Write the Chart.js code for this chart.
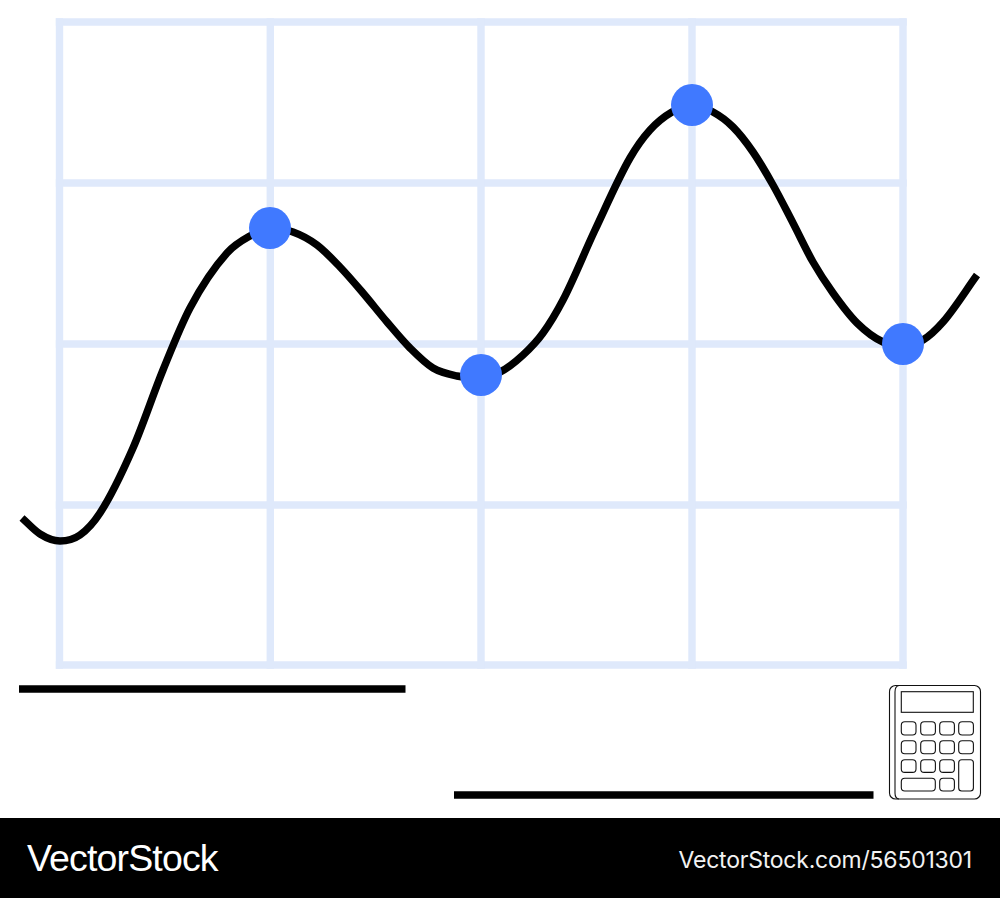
<!DOCTYPE html>
<html>
<head>
<meta charset="utf-8">
<title>Line chart</title>
<script src="https://cdn.jsdelivr.net/npm/chart.js@4/dist/chart.umd.min.js"></script>
<style>
html,body{margin:0;padding:0;background:#fff;width:1000px;height:898px;overflow:hidden}
#wrap{position:relative;width:1000px;height:898px}
canvas{position:absolute;left:0;top:0}
#band{position:absolute;left:0;top:818px;width:1000px;height:80px;background:#000;color:#fff}
#logo{position:absolute;left:27px;top:18px;font:37.5px/44px "Liberation Sans",sans-serif;letter-spacing:-0.85px}
#id{position:absolute;right:28px;top:27px;font:23px/30px Inter,"Liberation Sans",sans-serif;letter-spacing:-0.22px;color:#f2f2f2}
#calc{position:absolute;left:880px;top:680px}
</style>
</head>
<body>
<div id="wrap">
<canvas id="c" width="1000" height="818"></canvas>
<svg id="calc" width="110" height="125" viewBox="880 680 110 125" fill="none" stroke="#111" stroke-width="1.1">
<rect x="889.5" y="685.5" width="91" height="113.5" rx="6"/>
<path d="M899 685.5 Q895 686 895 692 V793 Q895 798.5 899 799"/>
<rect x="901.3" y="691.7" width="72" height="20.6"/>
<rect x="901.3" y="721.7" width="14.7" height="13.3" rx="3.5"/><rect x="920.7" y="721.7" width="14.7" height="13.3" rx="3.5"/><rect x="939.7" y="721.7" width="14.7" height="13.3" rx="3.5"/><rect x="958.7" y="721.7" width="14.7" height="13.3" rx="3.5"/>
<rect x="901.3" y="740.7" width="14.7" height="13" rx="3.5"/><rect x="920.7" y="740.7" width="14.7" height="13" rx="3.5"/><rect x="939.7" y="740.7" width="14.7" height="13" rx="3.5"/><rect x="958.7" y="740.7" width="14.7" height="13" rx="3.5"/>
<rect x="901.3" y="759.7" width="14.7" height="12.7" rx="3.5"/><rect x="920.7" y="759.7" width="14.7" height="12.7" rx="3.5"/><rect x="939.7" y="759.7" width="14.7" height="12.7" rx="3.5"/><rect x="958.7" y="759.7" width="14.7" height="31.3" rx="3"/>
<rect x="901.3" y="778.3" width="34" height="12.7" rx="3.5"/><rect x="939.7" y="778.3" width="14.7" height="12.7" rx="3.5"/>
</svg>
<div id="band"><div id="logo">VectorStock</div><div id="id">VectorStock.com/56501301</div></div>
</div>
<script>
const gridX = [-0.5, 210.3, 421, 632, 843];
const gridY = [0, 160, 321, 482, 643];

const curveX = [-38,-20,0,20,40,73,103,130,167,190,211,233,257,280,303,327,350,373,397,412,440,463,483,503,535,570,590,612,632,653,673,693,713,733,753,773,797,823,845,863,883,917];
const curveY = [147,131,124,130,152,217,295,357,412,429,437,433,420,398,372,343,317,297,289,287.5,293,310,332,365,435,507,535,553,560,553,538,513,480,442,403,372,342,323,319,325,343,390];

const markerX = [210,421,632,843];
const markerY = [437,290,560,321];

const barAX = [-41,345.5];
const barAY = [-24,-24];
const barBX = [394,813.5];
const barBY = [-130,-130];

const zip = (xs, ys) => xs.map((x, i) => ({x, y: ys[i]}));
const gridStyle = {borderColor: '#dfe9fb', borderWidth: 7.4, pointRadius: 0, borderCapStyle: 'square', tension: 0};
const xMin = gridX[0], xMax = gridX[gridX.length - 1];
const yMin = gridY[0], yMax = gridY[gridY.length - 1];
const gridSets = [
  ...gridX.map(x => ({...gridStyle, data: [{x, y: yMin}, {x, y: yMax}]})),
  ...gridY.map(y => ({...gridStyle, data: [{x: xMin, y}, {x: xMax, y}]}))
];

new Chart(document.getElementById('c'), {
  type: 'line',
  data: {
    datasets: [
      {data: zip(markerX, markerY), showLine: false, pointRadius: 21, pointBackgroundColor: '#4079ff', pointBorderWidth: 0},
      {data: zip(curveX, curveY), borderColor: '#000', borderWidth: 7.5, cubicInterpolationMode: 'monotone', pointRadius: 0, fill: false},
      {data: zip(barAX, barAY), borderColor: '#000', borderWidth: 7.5, pointRadius: 0},
      {data: zip(barBX, barBY), borderColor: '#000', borderWidth: 7.5, pointRadius: 0},
      ...gridSets
    ]
  },
  options: {
    responsive: false,
    animation: false,
    devicePixelRatio: 1,
    events: [],
    layout: {padding: 0, autoPadding: false},
    plugins: {legend: {display: false}, tooltip: {enabled: false}, title: {display: false}},
    scales: {
      x: {type: 'linear', min: -60, max: 940, display: false},
      y: {type: 'linear', min: -153, max: 665, display: false}
    }
  }
});
</script>
</body>
</html>
